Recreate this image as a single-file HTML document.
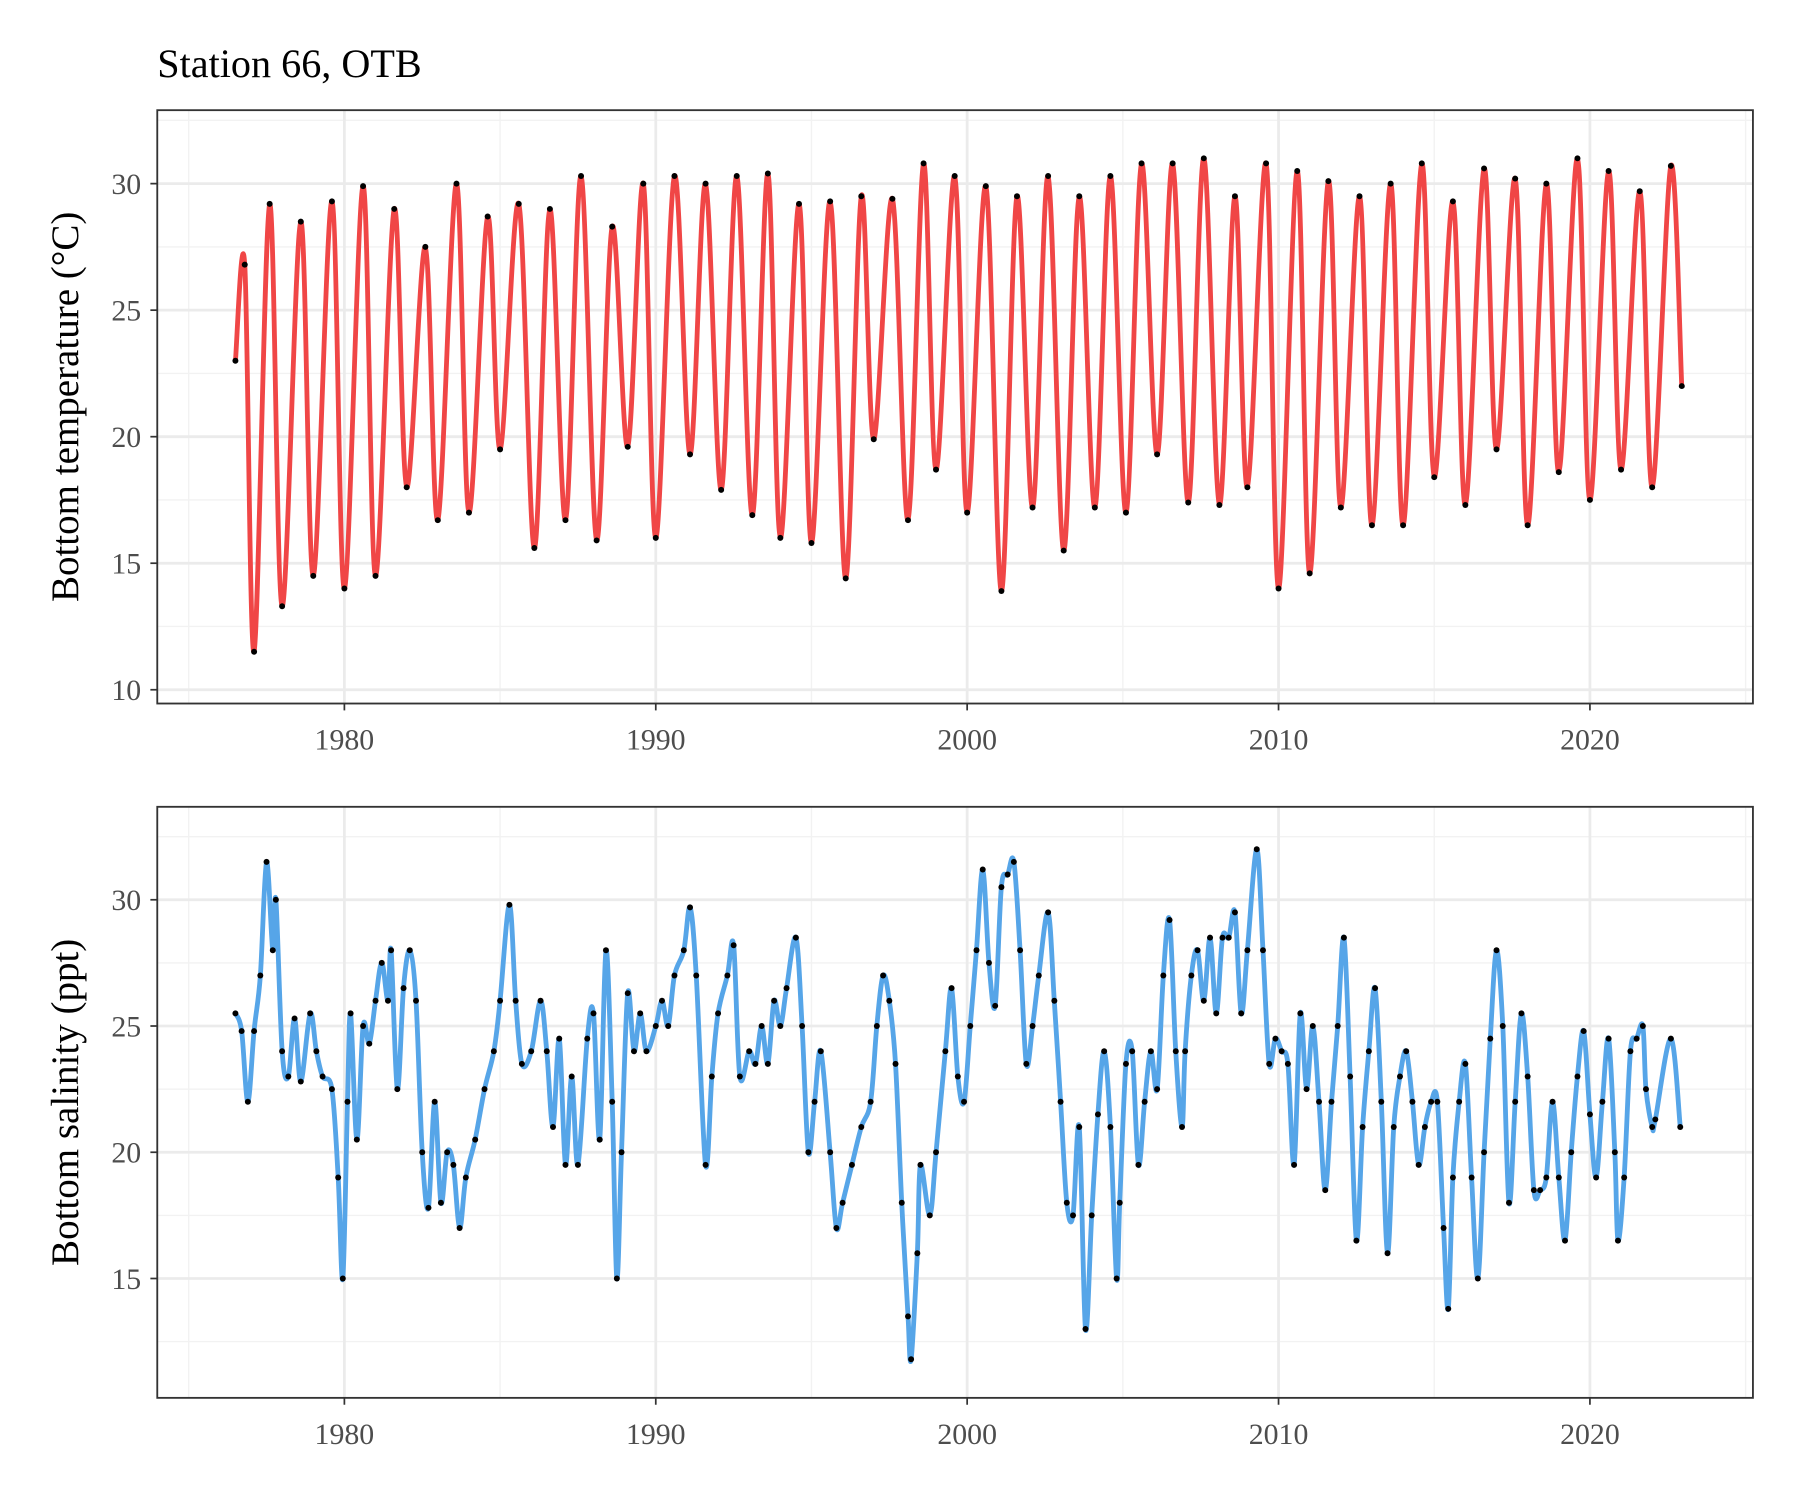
<!DOCTYPE html>
<html><head><meta charset="utf-8"><style>
html,body{margin:0;padding:0;background:#fff}
svg{display:block}
text{font-family:"Liberation Serif",serif}
</style></head><body>
<svg id="chart" width="1800" height="1500" viewBox="0 0 1568 1307" preserveAspectRatio="none" xmlns="http://www.w3.org/2000/svg">
<rect width="1568" height="1307" fill="#fff"/>
<text x="137" y="67" font-size="35" fill="#000">Station 66, OTB</text>
<g id="top"></g>
<g id="bot"></g>
</svg>
<script>
const xTicks=[1980,1990,2000,2010,2020];
const tempTicks=[10,15,20,25,30];
const salTicks=[15,20,25,30];
const tempYears=[1976.5,1976.8,1977.1,1977.6,1978.0,1978.6,1979.0,1979.6,1980.0,1980.6,1981.0,1981.6,1982.0,1982.6,1983.0,1983.6,1984.0,1984.6,1985.0,1985.6,1986.1,1986.6,1987.1,1987.6,1988.1,1988.6,1989.1,1989.6,1990.0,1990.6,1991.1,1991.6,1992.1,1992.6,1993.1,1993.6,1994.0,1994.6,1995.0,1995.6,1996.1,1996.6,1997.0,1997.6,1998.1,1998.6,1999.0,1999.6,2000.0,2000.6,2001.1,2001.6,2002.1,2002.6,2003.1,2003.6,2004.1,2004.6,2005.1,2005.6,2006.1,2006.6,2007.1,2007.6,2008.1,2008.6,2009.0,2009.6,2010.0,2010.6,2011.0,2011.6,2012.0,2012.6,2013.0,2013.6,2014.0,2014.6,2015.0,2015.6,2016.0,2016.6,2017.0,2017.6,2018.0,2018.6,2019.0,2019.6,2020.0,2020.6,2021.0,2021.6,2022.0,2022.6,2022.95];
const tempValues=[23,26.8,11.5,29.2,13.3,28.5,14.5,29.3,14,29.9,14.5,29,18,27.5,16.7,30,17,28.7,19.5,29.2,15.6,29,16.7,30.3,15.9,28.3,19.6,30,16,30.3,19.3,30,17.9,30.3,16.9,30.4,16,29.2,15.8,29.3,14.4,29.5,19.9,29.4,16.7,30.8,18.7,30.3,17,29.9,13.9,29.5,17.2,30.3,15.5,29.5,17.2,30.3,17,30.8,19.3,30.8,17.4,31,17.3,29.5,18,30.8,14,30.5,14.6,30.1,17.2,29.5,16.5,30,16.5,30.8,18.4,29.3,17.3,30.6,19.5,30.2,16.5,30,18.6,31,17.5,30.5,18.7,29.7,18,30.7,22];
const salYears=[1976.5,1976.7,1976.9,1977.1,1977.3,1977.5,1977.7,1977.8,1978.0,1978.2,1978.4,1978.6,1978.9,1979.1,1979.3,1979.6,1979.8,1979.95,1980.1,1980.2,1980.4,1980.6,1980.8,1981.0,1981.2,1981.4,1981.5,1981.7,1981.9,1982.1,1982.3,1982.5,1982.7,1982.9,1983.1,1983.3,1983.5,1983.7,1983.9,1984.2,1984.5,1984.8,1985.0,1985.3,1985.5,1985.7,1986.0,1986.3,1986.5,1986.7,1986.9,1987.1,1987.3,1987.5,1987.8,1988.0,1988.2,1988.4,1988.6,1988.75,1988.9,1989.1,1989.3,1989.5,1989.7,1990.0,1990.2,1990.4,1990.6,1990.9,1991.1,1991.3,1991.6,1991.8,1992.0,1992.3,1992.5,1992.7,1993.0,1993.2,1993.4,1993.6,1993.8,1994.0,1994.2,1994.5,1994.7,1994.9,1995.1,1995.3,1995.6,1995.8,1996.0,1996.3,1996.6,1996.9,1997.1,1997.3,1997.5,1997.7,1997.9,1998.1,1998.2,1998.4,1998.5,1998.8,1999.0,1999.3,1999.5,1999.7,1999.9,2000.1,2000.3,2000.5,2000.7,2000.9,2001.1,2001.3,2001.5,2001.7,2001.9,2002.1,2002.3,2002.6,2002.8,2003.0,2003.2,2003.4,2003.6,2003.8,2004.0,2004.2,2004.4,2004.6,2004.8,2004.9,2005.1,2005.3,2005.5,2005.7,2005.9,2006.1,2006.3,2006.5,2006.7,2006.9,2007.0,2007.2,2007.4,2007.6,2007.8,2008.0,2008.2,2008.4,2008.6,2008.8,2009.0,2009.3,2009.5,2009.7,2009.9,2010.1,2010.3,2010.5,2010.7,2010.9,2011.1,2011.3,2011.5,2011.7,2011.9,2012.1,2012.3,2012.5,2012.7,2012.9,2013.1,2013.3,2013.5,2013.7,2013.9,2014.1,2014.3,2014.5,2014.7,2014.9,2015.1,2015.3,2015.45,2015.6,2015.8,2016.0,2016.2,2016.4,2016.6,2016.8,2017.0,2017.2,2017.4,2017.6,2017.8,2018.0,2018.2,2018.4,2018.6,2018.8,2019.0,2019.2,2019.4,2019.6,2019.8,2020.0,2020.2,2020.4,2020.6,2020.8,2020.9,2021.1,2021.3,2021.5,2021.7,2021.8,2022.0,2022.1,2022.6,2022.9];
const salValues=[25.5,24.8,22,24.8,27,31.5,28,30,24,23,25.3,22.8,25.5,24,23,22.5,19,15,22,25.5,20.5,25,24.3,26,27.5,26,28,22.5,26.5,28,26,20,17.8,22,18,20,19.5,17,19,20.5,22.5,24,26,29.8,26,23.5,24,26,24,21,24.5,19.5,23,19.5,24.5,25.5,20.5,28,22,15,20,26.3,24,25.5,24,25,26,25,27,28,29.7,27,19.5,23,25.5,27,28.2,23,24,23.5,25,23.5,26,25,26.5,28.5,25,20,22,24,20,17,18,19.5,21,22,25,27,26,23.5,18,13.5,11.8,16,19.5,17.5,20,24,26.5,23,22,25,28,31.2,27.5,25.8,30.5,31,31.5,28,23.5,25,27,29.5,26,22,18,17.5,21,13,17.5,21.5,24,21,15,18,23.5,24,19.5,22,24,22.5,27,29.2,24,21,24,27,28,26,28.5,25.5,28.5,28.5,29.5,25.5,28,32,28,23.5,24.5,24,23.5,19.5,25.5,22.5,25,22,18.5,22,25,28.5,23,16.5,21,24,26.5,22,16,21,23,24,22,19.5,21,22,22,17,13.8,19,22,23.5,19,15,20,24.5,28,25,18,22,25.5,23,18.5,18.5,19,22,19,16.5,20,23,24.8,21.5,19,22,24.5,20,16.5,19,24,24.5,25,22.5,21,21.3,24.5,21];

const NS="http://www.w3.org/2000/svg";
function mk(parent,tag,attrs){const e=document.createElementNS(NS,tag);for(const k in attrs)e.setAttribute(k,attrs[k]);parent.appendChild(e);return e;}
const X0=137,X1=1527;
function xScale(y){return 300+(y-1980)*27.125;}
function smoothPath(pts){
  let d='M'+pts[0][0].toFixed(1)+','+pts[0][1].toFixed(1);
  for(let i=0;i<pts.length-1;i++){
    const p0=pts[Math.max(0,i-1)],p1=pts[i],p2=pts[i+1],p3=pts[Math.min(pts.length-1,i+2)];
    const c1x=p1[0]+(p2[0]-p0[0])/6,c1y=p1[1]+(p2[1]-p0[1])/6;
    const c2x=p2[0]-(p3[0]-p1[0])/6,c2y=p2[1]-(p3[1]-p1[1])/6;
    d+=' C'+c1x.toFixed(1)+','+c1y.toFixed(1)+' '+c2x.toFixed(1)+','+c2y.toFixed(1)+' '+p2[0].toFixed(1)+','+p2[1].toFixed(1);
  }
  return d;
}
function panel(g,top,bottom,yScale,yTicks,minorY,years,vals,color,label,prefix){
  mk(g,'rect',{x:X0,y:top,width:X1-X0,height:bottom-top,fill:'#fff'});
  [1975,1985,1995,2005,2015,2025].forEach(v=>{const l=mk(g,'line',{x1:xScale(v),x2:xScale(v),y1:top,y2:bottom,stroke:'#f2f2f2','stroke-width':1.2});
    
    });
  minorY.forEach(v=>{const l=mk(g,'line',{x1:X0,x2:X1,y1:yScale(v),y2:yScale(v),stroke:'#f2f2f2','stroke-width':1.2});
    
    });
  xTicks.forEach(v=>{const l=mk(g,'line',{x1:xScale(v),x2:xScale(v),y1:top,y2:bottom,stroke:'#ebebeb','stroke-width':2.4});
    
    
    const tk=mk(g,'line',{x1:xScale(v),x2:xScale(v),y1:bottom,y2:bottom+6,stroke:'#333','stroke-width':1.5});
    
    
    const t=mk(g,'text',{x:xScale(v),y:bottom+40,'font-size':26,fill:'#4d4d4d','text-anchor':'middle'});t.textContent=v;
    
    });
  yTicks.forEach(v=>{const l=mk(g,'line',{x1:X0,x2:X1,y1:yScale(v),y2:yScale(v),stroke:'#ebebeb','stroke-width':2.4});
    
    
    const tk=mk(g,'line',{x1:X0-6,x2:X0,y1:yScale(v),y2:yScale(v),stroke:'#333','stroke-width':1.5});
    
    
    const t=mk(g,'text',{x:X0-14,y:yScale(v)+9,'font-size':26,fill:'#4d4d4d','text-anchor':'end'});t.textContent=v;
    
    });
  const pts=years.map((y,i)=>[xScale(y),yScale(vals[i])]);
  const p=mk(g,'path',{d:smoothPath(pts),fill:'none',stroke:color,'stroke-width':4.2,'stroke-linejoin':'round'});
  
  
  pts.forEach(q=>{const c=mk(g,'circle',{cx:q[0],cy:q[1],r:2.6,fill:'#000'});
    
    });
  const fr=mk(g,'rect',{x:X0,y:top,width:X1-X0,height:bottom-top,fill:'none',stroke:'#333','stroke-width':1.6});
  
  
  const cy=(top+bottom)/2;
  const yl=mk(g,'text',{x:0,y:0,'font-size':34,fill:'#000','text-anchor':'middle',transform:'translate(68,'+cy+') rotate(-90)'});
  yl.textContent=label;
  
  
}
const tY=v=>601-(v-10)*22.05;
const sY=v=>1114-(v-15)*22;
panel(document.getElementById('top'),96,613,tY,tempTicks,[12.5,17.5,22.5,27.5,32.5],tempYears,tempValues,'#f04646','Bottom temperature (°C)','temperature');
panel(document.getElementById('bot'),703,1218,sY,salTicks,[12.5,17.5,22.5,27.5,32.5],salYears,salValues,'#56a5e8','Bottom salinity (ppt)','salinity');
</script>
</body></html>
